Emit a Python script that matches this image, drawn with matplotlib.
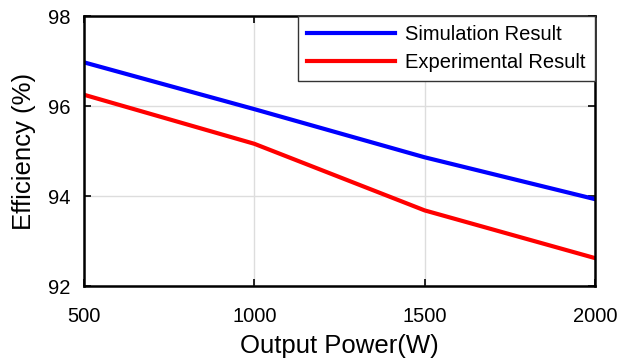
import matplotlib
matplotlib.use("Agg")
import matplotlib.pyplot as plt

power = [500, 1000, 1500, 2000]
simulation = [96.97, 95.93, 94.86, 93.93]
experimental = [96.25, 95.16, 93.68, 92.62]

plt.rcParams['font.family'] = ['Liberation Sans', 'DejaVu Sans']

fig = plt.figure(figsize=(6.18, 3.63), dpi=100)
ax = fig.add_axes([84 / 618, 1 - 286 / 363, (595 - 84) / 618, (286 - 16) / 363])

ax.plot(power, simulation, color='#0000ff', lw=3, label='Simulation Result')
ax.plot(power, experimental, color='#ff0000', lw=3, label='Experimental Result')

ax.set_xlim(500, 2000)
ax.set_ylim(92, 98)
ax.set_xticks([500, 1000, 1500, 2000])
ax.set_yticks([92, 94, 96, 98])
ax.grid(True, color='#dddddd', lw=1)
ax.tick_params(direction='in', length=5, width=1.2, labelsize=14.5,
               top=True, right=True)
ax.tick_params(axis='x', pad=15)
ax.tick_params(axis='y', pad=10)
for s in ax.spines.values():
    s.set_linewidth(1.8)

ax.set_xlabel('Output Power(W)', fontsize=18.5, labelpad=6)
ax.set_ylabel('Efficiency (%)', fontsize=18.5, labelpad=8)

leg = ax.legend(loc='upper right', fontsize=14.5, handlelength=4.4, frameon=True,
                fancybox=False, borderaxespad=0, handletextpad=0.5,
                labelspacing=0.45, borderpad=0.45)
leg.get_frame().set_edgecolor('#333333')
leg.get_frame().set_linewidth(1)
leg.get_frame().set_alpha(1)

fig.savefig('out.png', dpi=100)
